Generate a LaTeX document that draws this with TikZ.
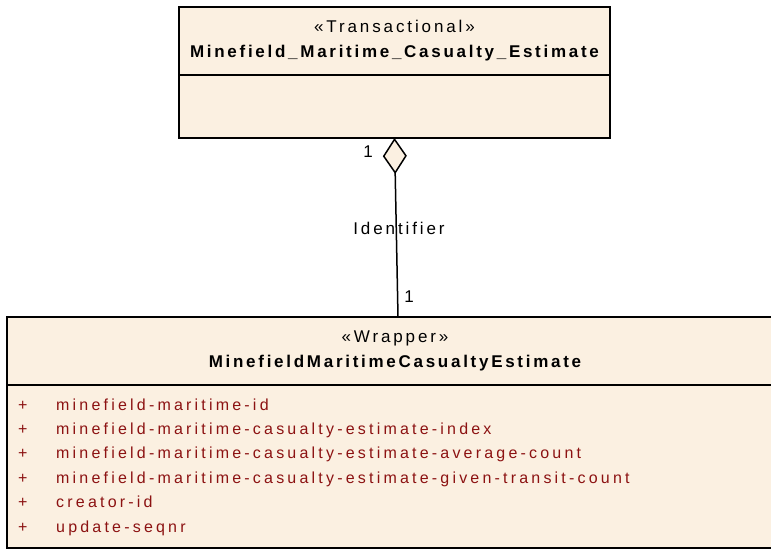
\documentclass[tikz,border=0pt]{standalone}
\usepackage{fontspec}
\setmainfont{Liberation Sans}
\newfontfamily\umlfont[LetterSpace=17]{Liberation Sans}
\newfontfamily\namefont[LetterSpace=16]{Liberation Sans}
\newfontfamily\attrfont[LetterSpace=20]{Liberation Sans}
\usetikzlibrary{arrows.meta,positioning}
\definecolor{umlfill}{RGB}{251,240,225}
\definecolor{attrred}{RGB}{140,18,18}

\begin{document}
\begin{tikzpicture}[
  x=1pt,y=-1pt,
  line join=miter,
  classpart/.style={draw=black,fill=umlfill,line width=1.6pt,
    outer sep=0pt,inner sep=0pt,align=center},
  headfont/.style={font=\umlfont\fontsize{17}{25}\selectfont},
  attr/.style={anchor=base west,inner sep=0pt,text=attrred,
    font=\attrfont\fontsize{16}{19}\selectfont},
  lbl/.style={inner sep=0pt,font=\umlfont\fontsize{17}{20}\selectfont},
  aggregation/.style={{Diamond[length=36pt,width=24pt,fill=umlfill]}-,
    line width=1.5pt}
]
  \useasboundingbox (0,0) rectangle (771,549);

  % Owner class (top).
  \node[classpart,headfont,minimum width=431pt,minimum height=68pt]
    (transHead) at (394.5,41)
    {«Transactional»\\{\namefont\bfseries Minefield\_Maritime\_Casualty\_Estimate}};
  \node[classpart,minimum width=431pt,minimum height=63pt,
    below=0pt of transHead] (transBody) {};

  % Wrapper class (bottom), cut off at the right edge.
  \node[classpart,headfont,minimum width=776pt,minimum height=68pt]
    (wrapHead) at (395,351)
    {«Wrapper»\\{\namefont\bfseries MinefieldMaritimeCasualtyEstimate}};
  \node[classpart,minimum width=776pt,minimum height=163pt,
    below=0pt of wrapHead] (wrapBody) {};

  % Attributes.
  \foreach \attrname [count=\i] in {
    minefield-maritime-id,
    minefield-maritime-casualty-estimate-index,
    minefield-maritime-casualty-estimate-average-count,
    minefield-maritime-casualty-estimate-given-transit-count,
    creator-id,
    update-seqnr}
    \node[attr] (attr\i) at (18,{410+24.4*(\i-1)})
      {\makebox[38pt][l]{+}\attrname};

  % Aggregation.
  \coordinate (aggEnd) at ([xshift=3pt]wrapHead.north);
  \draw[aggregation] (transBody.south) -- (aggEnd);
  \node[lbl] (multTop) at (368,152) {1};
  \node[lbl] (assocName) at (399,228) {Identifier};
  \node[lbl] (multBottom) at (409,297) {1};
\end{tikzpicture}
\end{document}
